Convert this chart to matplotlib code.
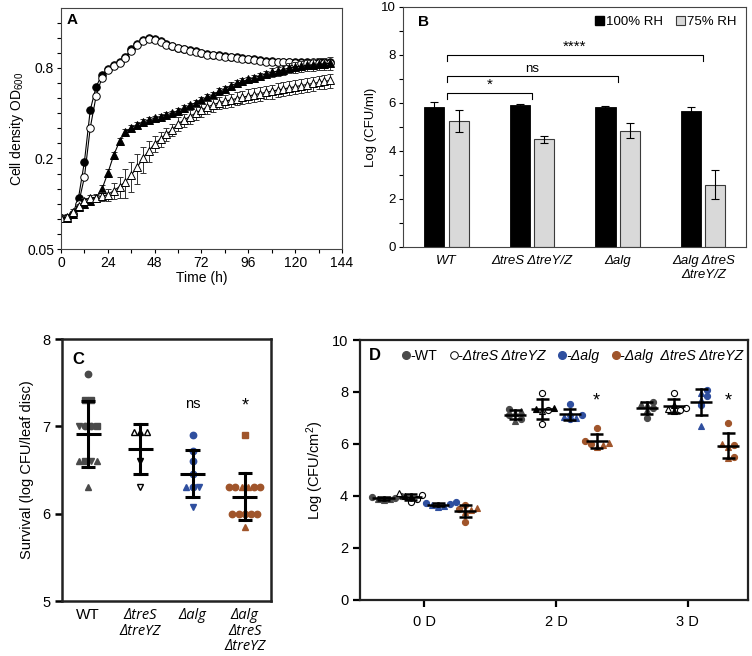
import numpy as np
import matplotlib
matplotlib.use("Agg")
import matplotlib.pyplot as plt
from matplotlib.lines import Line2D
from matplotlib.patches import Patch
from matplotlib.ticker import FixedLocator, NullFormatter, MultipleLocator

plt.rcParams["font.family"] = ["Liberation Sans", "DejaVu Sans"]
plt.rcParams["mathtext.fontset"] = "custom"
plt.rcParams["mathtext.rm"] = "Liberation Sans"
plt.rcParams["mathtext.it"] = "Liberation Sans:italic"

# ---------------- Panel A: growth curves (OD600, every 3 h)
time_h = [0, 3, 6, 9, 12, 15, 18, 21, 24, 27, 30, 33, 36, 39, 42, 45,
          48, 51, 54, 57, 60, 63, 66, 69, 72, 75, 78, 81, 84, 87, 90, 93,
          96, 99, 102, 105, 108, 111, 114, 117, 120, 123, 126, 129, 132,
          135, 138]
od_wt = [0.080, 0.080, 0.085, 0.110, 0.190, 0.420, 0.600, 0.720, 0.790,
         0.840, 0.880, 0.950, 1.060, 1.160, 1.230, 1.260, 1.240, 1.200,
         1.160, 1.120, 1.090, 1.070, 1.050, 1.030, 1.010, 0.990, 0.980,
         0.970, 0.960, 0.950, 0.940, 0.930, 0.920, 0.910, 0.900, 0.890,
         0.890, 0.880, 0.880, 0.880, 0.870, 0.870, 0.870, 0.870, 0.870,
         0.870, 0.870]
od_tre = [0.080, 0.080, 0.085, 0.100, 0.150, 0.320, 0.520, 0.690, 0.770,
          0.820, 0.860, 0.930, 1.040, 1.140, 1.210, 1.240, 1.220, 1.180,
          1.140, 1.110, 1.080, 1.060, 1.040, 1.020, 1.000, 0.980, 0.970,
          0.960, 0.950, 0.940, 0.930, 0.920, 0.910, 0.900, 0.890, 0.880,
          0.880, 0.870, 0.870, 0.870, 0.860, 0.860, 0.860, 0.860, 0.860,
          0.860, 0.860]
od_alg = [0.080, 0.080, 0.085, 0.095, 0.100, 0.105, 0.110, 0.125, 0.160,
          0.210, 0.260, 0.300, 0.320, 0.335, 0.350, 0.360, 0.370, 0.380,
          0.390, 0.400, 0.415, 0.430, 0.450, 0.470, 0.490, 0.510, 0.530,
          0.560, 0.580, 0.610, 0.630, 0.650, 0.670, 0.690, 0.710, 0.730,
          0.750, 0.760, 0.780, 0.800, 0.810, 0.820, 0.830, 0.840, 0.850,
          0.850, 0.860]
sd_alg = [0.002, 0.002, 0.002, 0.003, 0.003, 0.004, 0.005, 0.008, 0.010,
          0.012, 0.015, 0.015, 0.015, 0.015, 0.015, 0.015, 0.015, 0.015,
          0.015, 0.015, 0.020, 0.020, 0.020, 0.020, 0.020, 0.025, 0.025,
          0.025, 0.025, 0.030, 0.030, 0.030, 0.030, 0.030, 0.035, 0.035,
          0.050, 0.055, 0.060, 0.060, 0.065, 0.070, 0.070, 0.075, 0.080,
          0.080, 0.085]
od_triple = [0.080, 0.082, 0.088, 0.096, 0.105, 0.110, 0.110, 0.112, 0.115,
             0.122, 0.130, 0.140, 0.155, 0.175, 0.200, 0.225, 0.250, 0.270,
             0.290, 0.310, 0.340, 0.360, 0.380, 0.400, 0.420, 0.440, 0.455,
             0.470, 0.480, 0.490, 0.500, 0.510, 0.520, 0.530, 0.540, 0.550,
             0.560, 0.570, 0.580, 0.590, 0.600, 0.610, 0.620, 0.630, 0.640,
             0.650, 0.660]
sd_triple = [0.003, 0.003, 0.004, 0.004, 0.005, 0.005, 0.006, 0.008, 0.010,
             0.015, 0.020, 0.030, 0.035, 0.040, 0.040, 0.035, 0.030, 0.030,
             0.030, 0.030, 0.035, 0.035, 0.040, 0.040, 0.040, 0.045, 0.045,
             0.045, 0.050, 0.050, 0.050, 0.050, 0.055, 0.055, 0.055, 0.055,
             0.060, 0.060, 0.060, 0.060, 0.060, 0.065, 0.065, 0.065, 0.065,
             0.070, 0.070]
od_ticks = [0.05, 0.2, 0.8]

# ---------------- Panel B: desiccation survival
strains_b = ["WT", "ΔtreS ΔtreY/Z", "Δalg", "Δalg ΔtreS\nΔtreY/Z"]
rh100 = [5.85, 5.92, 5.82, 5.67]
rh100_err = [0.20, 0.03, 0.07, 0.15]
rh75 = [5.24, 4.48, 4.85, 2.60]
rh75_err = [0.47, 0.14, 0.33, 0.60]
brackets_b = [(0, 1, 6.42, "*"), (0, 2, 7.14, "ns"), (0, 3, 8.00, "****")]

# ---------------- Panel C: leaf disc survival
strains_c = ["WT", "ΔtreS\nΔtreYZ", "Δalg", "Δalg\nΔtreS\nΔtreYZ"]
c_wt = [7.6, 7.3, 7.3, 7.0, 7.0, 7.0, 7.0, 6.6, 6.6, 6.6, 6.6, 6.3]
c_tre = [6.93, 6.93, 6.93, 6.6, 6.3]
c_alg = [6.9, 6.72, 6.6, 6.45, 6.3, 6.3, 6.3, 6.08]
c_triple = [6.9, 6.3, 6.3, 6.3, 6.3, 6.3, 6.3, 6.0, 6.0, 6.0, 6.0, 6.0, 5.85]
c_marks = {
    "wt": ["o", "s", "s", "v", "o", "o", "s", "^", "s", "v", "^", "^"],
    "tre": ["^", "^", "^", "v", "v"],
    "alg": ["o", "o", "o", "o", "^", "o", "v", "v"],
    "triple": ["s", "o", "o", "^", "^", "o", "o", "o", "o", "o", "o", "o", "^"],
}
tre_open = [True, False, True, False, True]
c_notes = [(2, 7.26, "ns"), (3, 7.23, "*")]

# ---------------- Panel D: leaf surface populations
days_d = ["0 D", "2 D", "3 D"]
d_wt = [[3.95, 3.90, 4.00, 3.85, 3.92, 3.88],
        [7.35, 7.20, 7.10, 6.90, 6.95, 7.25],
        [7.62, 7.50, 7.40, 7.30, 7.00, 7.55]]
d_tre = [[4.05, 3.95, 3.90, 4.10, 3.75, 4.00],
         [7.97, 7.35, 7.30, 7.25, 6.75, 7.40],
         [7.95, 7.50, 7.40, 7.35, 7.30, 7.25]]
d_alg = [[3.70, 3.65, 3.75, 3.60, 3.72, 3.58],
         [7.52, 7.20, 7.10, 7.00, 6.95, 7.05],
         [8.08, 7.95, 7.85, 7.70, 7.50, 6.70]]
d_triple = [[3.65, 3.45, 3.50, 3.40, 3.00, 3.55],
            [6.63, 6.05, 6.00, 5.95, 6.10, 5.90],
            [6.82, 6.00, 5.95, 5.90, 5.50, 5.45]]
d_marks = ["o", "^", "o", "^", "o", "^"]
d_stars = [(1, 7.67), (2, 7.67)]

GREY = "#4a4a4a"
BLUE = "#2f4f9f"
BROWN = "#a0552b"


def row_offsets(vals, dx):
    # spread identical values side by side
    offs = np.zeros(len(vals))
    vals = np.asarray(vals)
    for v in np.unique(vals):
        idx = np.where(vals == v)[0]
        offs[idx] = (np.arange(len(idx)) - (len(idx) - 1) / 2) * dx
    return offs


def swarm_offsets(vals, dx, dy):
    offs = np.zeros(len(vals))
    placed = []
    for i in np.argsort(vals):
        for k in [0, 1, -1, 2, -2, 3, -3]:
            x = k * dx
            if all(abs(x - px) > dx * 0.5 or abs(vals[i] - pv) >= dy
                   for px, pv in placed):
                break
        placed.append((x, vals[i]))
        offs[i] = x
    return offs


fig = plt.figure(figsize=(7.52, 6.56), dpi=100)

# ================= A
axA = fig.add_axes([0.0811, 0.6204, 0.3737, 0.3674])
series_a = [
    (od_wt, None, "o", "black"),
    (od_tre, None, "o", "white"),
    (od_alg, sd_alg, "^", "black"),
    (od_triple, sd_triple, "^", "white"),
]
for vals, err, mk, fc in series_a:
    if err is not None:
        axA.errorbar(time_h, vals, yerr=err, fmt="none", ecolor="#333333",
                     elinewidth=0.7, capsize=2, capthick=0.7)
    axA.plot(time_h, vals, color="black", lw=0.8, marker=mk, ms=5.4,
             mfc=fc, mec="black", mew=0.7)
axA.set_yscale("log")
axA.set_ylim(0.05, 2.0)
axA.set_xlim(0, 144)
axA.yaxis.set_major_locator(FixedLocator(od_ticks))
axA.set_yticklabels([str(t) for t in od_ticks])
axA.yaxis.set_minor_locator(FixedLocator(0.05 * 2 ** (np.arange(1, 16) / 3)))
axA.yaxis.set_minor_formatter(NullFormatter())
axA.xaxis.set_major_locator(MultipleLocator(24))
axA.xaxis.set_minor_locator(MultipleLocator(12))
axA.tick_params(labelsize=10, length=3, width=0.8, pad=2)
axA.tick_params(which="minor", length=3, width=0.8)
for s in axA.spines.values():
    s.set_linewidth(0.8)
    s.set_color("#444444")
axA.set_xlabel("Time (h)", fontsize=10, labelpad=1)
axA.set_ylabel("Cell density OD$_{600}$", fontsize=10, labelpad=1)
axA.text(0.02, 0.98, "A", transform=axA.transAxes, fontsize=11,
         fontweight="bold", va="top", ha="left")

# ================= B
axB = fig.add_axes([0.5359, 0.6235, 0.4561, 0.3659])
xb = np.arange(len(strains_b))
wb = 0.235
axB.bar(xb - 0.143, rh100, wb, color="black", edgecolor="black", lw=0.6,
        yerr=rh100_err, capsize=3, error_kw=dict(elinewidth=0.8, capthick=0.8))
axB.bar(xb + 0.143, rh75, wb, color="#d9d9d9", edgecolor="#3a3a3a", lw=0.8,
        yerr=rh75_err, capsize=3, error_kw=dict(elinewidth=0.8, capthick=0.8))
for i0, i1, y, lab in brackets_b:
    axB.plot([xb[i0], xb[i0], xb[i1], xb[i1]], [y - 0.25, y, y, y - 0.25],
             color="black", lw=0.8)
    axB.text((xb[i0] + xb[i1]) / 2, y + 0.04, lab, ha="center", va="bottom",
             fontsize=9.5 if lab == "ns" else 11)
axB.set_xlim(-0.51, 3.5)
axB.set_ylim(0, 10)
axB.yaxis.set_major_locator(MultipleLocator(2))
axB.yaxis.set_minor_locator(MultipleLocator(1))
axB.set_xticks(xb)
axB.set_xticklabels(strains_b, fontsize=9.5, style="italic")
axB.tick_params(axis="x", length=0, pad=6)
axB.tick_params(axis="y", labelsize=9.5, length=3, width=0.8, pad=2)
axB.tick_params(axis="y", which="minor", length=3, width=0.8)
for s in axB.spines.values():
    s.set_linewidth(0.8)
    s.set_color("#444444")
axB.set_ylabel("Log (CFU/ml)", fontsize=9.5, labelpad=3)
axB.text(0.045, 0.965, "B", transform=axB.transAxes, fontsize=11,
         fontweight="bold", va="top", ha="left")
legB = axB.legend(
    handles=[Patch(facecolor="black", edgecolor="black"),
             Patch(facecolor="#d9d9d9", edgecolor="#3a3a3a", lw=0.8)],
    labels=["100% RH", "75% RH"], loc="upper right", ncol=2, frameon=False,
    fontsize=9.5, handlelength=0.7, handleheight=0.7, handletextpad=0.15,
    columnspacing=1.0, borderaxespad=0.3)

# ================= C
axC = fig.add_axes([0.0824, 0.0838, 0.2779, 0.3994])
groups_c = [
    (c_wt, c_marks["wt"], [GREY] * len(c_wt), [GREY] * len(c_wt)),
    (c_tre, c_marks["tre"],
     ["white" if o else "black" for o in tre_open], ["black"] * len(c_tre)),
    (c_alg, c_marks["alg"], [BLUE] * len(c_alg), [BLUE] * len(c_alg)),
    (c_triple, c_marks["triple"], [BROWN] * len(c_triple),
     [BROWN] * len(c_triple)),
]
for gi, (vals, mks, fcs, ecs) in enumerate(groups_c):
    offs = row_offsets(vals, 0.12)
    for v, o, mk, fc, ec in zip(vals, offs, mks, fcs, ecs):
        axC.plot(gi + o, v, marker=mk, ms=4.6, mfc=fc, mec=ec, mew=1.0,
                 ls="none")
    m = np.mean(vals)
    sd = np.std(vals, ddof=1)
    axC.plot([gi - 0.24, gi + 0.24], [m, m], color="black", lw=2.2,
             solid_capstyle="butt")
    axC.plot([gi, gi], [m - sd, m + sd], color="black", lw=2.2)
    for yy in (m - sd, m + sd):
        axC.plot([gi - 0.14, gi + 0.14], [yy, yy], color="black", lw=2.2,
                 solid_capstyle="butt")
for gi, y, lab in c_notes:
    axC.text(gi, y, lab, ha="center", va="center",
             fontsize=10.5 if lab == "ns" else 13)
axC.set_xlim(-0.5, 3.5)
axC.set_ylim(5, 8)
axC.yaxis.set_major_locator(MultipleLocator(1))
axC.set_xticks(range(len(strains_c)))
axC.set_xticklabels(strains_c, fontsize=11, linespacing=1.05)
for i, t in enumerate(axC.get_xticklabels()):
    if i > 0:
        t.set_fontfamily(["Open Sans", "DejaVu Sans"])
        t.set_style("italic")
        t.set_fontsize(10.5)
axC.tick_params(axis="x", length=0, pad=5)
axC.tick_params(axis="y", labelsize=10.5, length=5, width=1.8)
for s in axC.spines.values():
    s.set_linewidth(1.8)
    s.set_color("#222222")
axC.set_ylabel("Survival (log CFU/leaf disc)", fontsize=10.5, labelpad=6)
axC.text(0.05, 0.95, "C", transform=axC.transAxes, fontsize=12,
         fontweight="bold", va="top", ha="left")

# ================= D
axD = fig.add_axes([0.4787, 0.0854, 0.5160, 0.3963])
strain_style = [
    (d_wt, GREY, GREY, [GREY] * 6),
    (d_tre, "black", "black", ["white", "black", "white", "white", "white", "black"]),
    (d_alg, BLUE, BLUE, [BLUE] * 6),
    (d_triple, BROWN, BROWN, [BROWN] * 6),
]
strain_shift = [-0.31, -0.105, 0.105, 0.31]
for si, (data, col, ec, fcs) in enumerate(strain_style):
    for di, vals in enumerate(data):
        xc = di + strain_shift[si]
        offs = swarm_offsets(vals, 0.045, 0.2)
        for v, o, mk, fc in zip(vals, offs, d_marks, fcs):
            axD.plot(xc + o, v, marker=mk, ms=4.4, mfc=fc, mec=ec, mew=0.8,
                     ls="none")
        m = np.mean(vals)
        sd = np.std(vals, ddof=1)
        axD.plot([xc - 0.085, xc + 0.085], [m, m], color="black", lw=1.8,
                 solid_capstyle="butt")
        axD.plot([xc, xc], [m - sd, m + sd], color="black", lw=1.8)
        for yy in (m - sd, m + sd):
            axD.plot([xc - 0.05, xc + 0.05], [yy, yy], color="black", lw=1.8,
                     solid_capstyle="butt")
for di, y in d_stars:
    axD.text(di + strain_shift[3], y, "*", ha="center", va="center",
             fontsize=13)
axD.set_xlim(-0.49, 2.46)
axD.set_ylim(0, 10)
axD.yaxis.set_major_locator(MultipleLocator(2))
axD.set_xticks(range(len(days_d)))
axD.set_xticklabels(days_d, fontsize=10.5)
axD.tick_params(axis="x", length=5, width=1.6, pad=6)
axD.tick_params(axis="y", labelsize=10.5, length=5, width=1.6)
for s in axD.spines.values():
    s.set_linewidth(1.6)
    s.set_color("#222222")
axD.set_ylabel("Log (CFU/cm$^2$)", fontsize=10.5, labelpad=4)
axD.text(0.022, 0.97, "D", transform=axD.transAxes, fontsize=12,
         fontweight="bold", va="top", ha="left")
handles_d = [
    Line2D([], [], marker="o", ls="none", ms=5.5, mfc=GREY, mec=GREY),
    Line2D([], [], marker="o", ls="none", ms=5.5, mfc="white", mec="black", mew=0.7),
    Line2D([], [], marker="o", ls="none", ms=5.5, mfc=BLUE, mec=BLUE),
    Line2D([], [], marker="o", ls="none", ms=5.5, mfc=BROWN, mec=BROWN),
]
legD = axD.legend(handles_d, ["-WT", "-ΔtreS ΔtreYZ", "-Δalg",
                              "-Δalg  ΔtreS ΔtreYZ"],
                  loc="upper left", bbox_to_anchor=(0.085, 1.005), ncol=4,
                  frameon=False, fontsize=10.2, handlelength=0.5,
                  handletextpad=0.05, columnspacing=0.9, borderaxespad=0.3)
for i, t in enumerate(legD.get_texts()):
    if i > 0:
        t.set_style("italic")

fig.savefig("out.png", dpi=100)
